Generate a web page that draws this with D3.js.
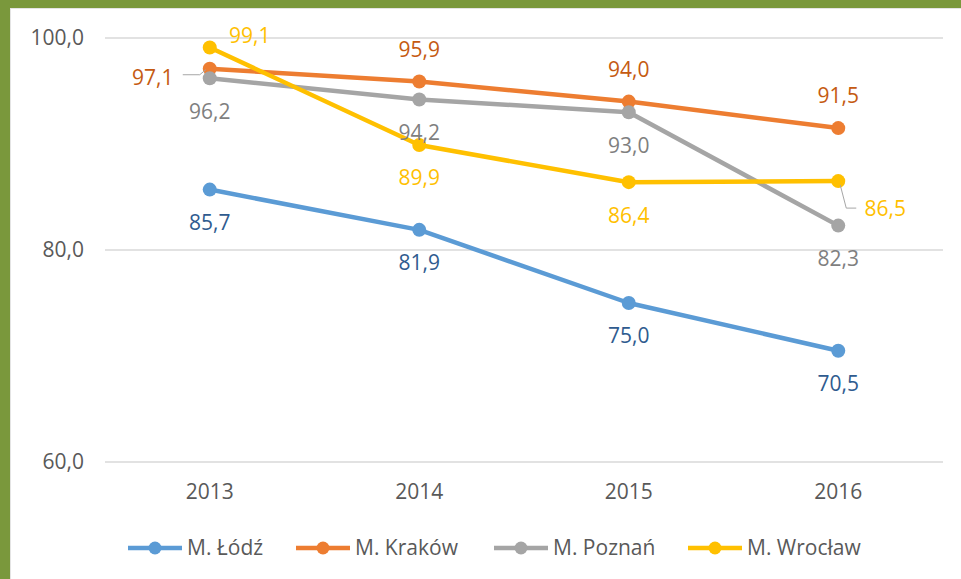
<!DOCTYPE html>
<html>
<head>
<meta charset="utf-8">
<script src="https://cdn.jsdelivr.net/npm/d3@7"></script>
<style>
  body { margin: 0; background: #7a983c; }
  svg { display: block; font-family: "Open Sans", sans-serif; }
</style>
</head>
<body>
<script>
const years = ["2013", "2014", "2015", "2016"]
const seriesNames = ["M. Łódź", "M. Kraków", "M. Poznań", "M. Wrocław"]
const lodz = [85.7, 81.9, 75.0, 70.5]
const krakow = [97.1, 95.9, 94.0, 91.5]
const poznan = [96.2, 94.2, 93.0, 82.3]
const wroclaw = [99.1, 89.9, 86.4, 86.5]
const yTicks = [60, 80, 100]

// styling per series
const lineColors = ["#5b9bd5", "#ed7d31", "#a5a5a5", "#ffc000"]
const labelColors = ["#2f5b8f", "#c55a11", "#7f7f7f", "#ffc000"]
// where each data label goes relative to its point
const labelPos = [
  ["below", "below", "below", "below"],
  ["left", "above", "above", "above"],
  ["below", "below", "below", "below"],
  ["aboveRight", "below", "below", "right"]
]

const values = [lodz, krakow, poznan, wroclaw]
const series = seriesNames.map((name, i) => ({
  name: name,
  color: lineColors[i],
  labelColor: labelColors[i],
  points: years.map((y, j) => ({ year: y, value: values[i][j], pos: labelPos[i][j] }))
}))

const W = 961, H = 579
const svg = d3.select("body").append("svg")
  .attr("width", W)
  .attr("height", H)

// white panel inside the green frame
svg.append("rect")
  .attr("x", 10).attr("y", 8)
  .attr("width", W - 10).attr("height", H - 8)
  .attr("fill", "#e4e4e4")
svg.append("rect")
  .attr("x", 11).attr("y", 9)
  .attr("width", W - 11).attr("height", H - 9)
  .attr("fill", "#fff")

const x = d3.scaleBand()
  .domain(years)
  .range([105, 943])

const y = d3.scaleLinear()
  .domain([60, 100])
  .range([462, 38])

const cx = d => x(d) + x.bandwidth() / 2

// gridlines
svg.append("g")
  .selectAll("line")
  .data(yTicks)
  .join("line")
  .attr("x1", 105).attr("x2", 943)
  .attr("y1", d => y(d)).attr("y2", d => y(d))
  .attr("stroke", "#d9d9d9")
  .attr("stroke-width", 1.5)

// y axis labels
const yAxis = g => g
  .attr("transform", "translate(84,0)")
  .call(d3.axisLeft(y).tickValues(yTicks).tickSize(0).tickPadding(0)
    .tickFormat(d => d3.format(".1f")(d).replace(".", ",")))
  .call(g => g.select(".domain").remove())
  .call(g => g.selectAll("text")
    .attr("font-size", 21)
    .attr("font-family", "Open Sans, sans-serif")
    .attr("fill", "#595959"))

svg.append("g").call(yAxis)

// x axis labels
const xAxis = g => g
  .attr("transform", "translate(0,484)")
  .call(d3.axisBottom(x).tickSize(0).tickPadding(0))
  .call(g => g.select(".domain").remove())
  .call(g => g.selectAll("text")
    .attr("font-size", 21)
    .attr("font-family", "Open Sans, sans-serif")
    .attr("fill", "#595959"))

svg.append("g").call(xAxis)

const line = d3.line()
  .x(d => cx(d.year))
  .y(d => y(d.value))

const plot = svg.append("g")

series.forEach(s => {
  plot.append("path")
    .attr("d", line(s.points))
    .attr("fill", "none")
    .attr("stroke", s.color)
    .attr("stroke-width", 4.5)
    .attr("stroke-linejoin", "round")
  plot.selectAll(null)
    .data(s.points)
    .join("circle")
    .attr("cx", d => cx(d.year))
    .attr("cy", d => y(d.value))
    .attr("r", 7)
    .attr("fill", s.color)
})

// data labels
const fmt = v => d3.format(".1f")(v).replace(".", ",")
const labels = svg.append("g")

series.forEach(s => {
  s.points.forEach(d => {
    let px = cx(d.year), py = y(d.value)
    let tx = px, ty = py, anchor = "middle"
    if (d.pos === "below") ty = py + 33
    if (d.pos === "above") ty = py - 32
    if (d.pos === "left") { tx = px - 57; ty = py + 9; }
    if (d.pos === "aboveRight") { tx = px + 40; ty = py - 12; }
    if (d.pos === "right") { tx = px + 47; ty = py + 28; }
    labels.append("text")
      .attr("x", tx)
      .attr("y", ty)
      .attr("dy", "0.35em")
      .attr("text-anchor", anchor)
      .attr("font-size", 21)
      .attr("fill", s.labelColor)
      .text(fmt(d.value))
    // leader lines for labels that were moved off the point
    if (d.pos === "left") {
      labels.append("path")
        .attr("d", d3.line()([[px - 27, py + 6], [px - 10, py + 6], [px - 4, py + 1]]))
        .attr("fill", "none")
        .attr("stroke", "#a6a6a6")
        .attr("stroke-width", 1)
    }
    if (d.pos === "right") {
      labels.append("path")
        .attr("d", d3.line()([[px + 2, py + 4], [px + 8, py + 27], [px + 18, py + 27]]))
        .attr("fill", "none")
        .attr("stroke", "#a6a6a6")
        .attr("stroke-width", 1)
    }
  })
})

// legend
const legendX = [128, 296, 494, 688]
const legend = svg.append("g")
  .selectAll("g")
  .data(series)
  .join("g")
  .attr("transform", (d, i) => `translate(${legendX[i]},548)`)

legend.append("line")
  .attr("x1", 0).attr("x2", 54)
  .attr("stroke", d => d.color)
  .attr("stroke-width", 4.5)
legend.append("circle")
  .attr("cx", 27)
  .attr("r", 6.5)
  .attr("fill", d => d.color)
legend.append("text")
  .attr("x", 59)
  .attr("dy", "0.35em")
  .attr("font-size", 21)
  .attr("fill", "#595959")
  .text(d => d.name)
</script>
</body>
</html>
